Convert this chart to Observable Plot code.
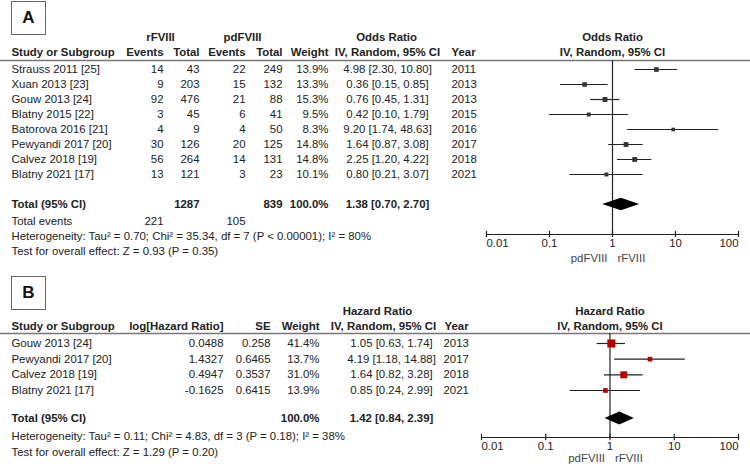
<!DOCTYPE html>
<html><head><meta charset="utf-8">
<script src="https://cdn.jsdelivr.net/npm/d3@7"></script>
<script src="https://cdn.jsdelivr.net/npm/@observablehq/plot@0.6"></script>
<style>
html,body{margin:0;padding:0;background:#fff;}
#wrap{position:relative;width:750px;height:475px;overflow:hidden;}
.panel{position:absolute;left:0;}
.box{position:absolute;left:11px;width:35px;height:34px;border:1px solid #666;display:flex;align-items:center;justify-content:center;font:bold 17px "Liberation Sans",Arial,sans-serif;color:#111;box-sizing:border-box;}
</style></head><body><div id="wrap"></div>
<script>
// ---------- Panel A data ----------
const studiesA = ["Strauss 2011 [25]","Xuan 2013 [23]","Gouw 2013 [24]","Blatny 2015 [22]","Batorova 2016 [21]","Pewyandi 2017 [20]","Calvez 2018 [19]","Blatny 2021 [17]"];
const rEvents  = [14, 9, 92, 3, 4, 30, 56, 13];
const rTotal   = [43, 203, 476, 45, 9, 126, 264, 121];
const pdEvents = [22, 15, 21, 6, 4, 20, 14, 3];
const pdTotal  = [249, 132, 88, 41, 50, 125, 131, 23];
const weightA  = [13.9, 13.3, 15.3, 9.5, 8.3, 14.8, 14.8, 10.1];
const orA      = [4.98, 0.36, 0.76, 0.42, 9.20, 1.64, 2.25, 0.80];
const loA      = [2.30, 0.15, 0.45, 0.10, 1.74, 0.87, 1.20, 0.21];
const hiA      = [10.80, 0.85, 1.31, 1.79, 48.63, 3.08, 4.22, 3.07];
const yearA    = ["2011", "2013", "2013", "2015", "2016", "2017", "2018", "2021"];
const totalA   = {rTotal: "1287", pdTotal: "839", weight: "100.0%", est: 1.38, lo: 0.70, hi: 2.70, rEvents: "221", pdEvents: "105"};
const hetA     = "Heterogeneity: Tau\u00b2 = 0.70; Chi\u00b2 = 35.34, df = 7 (P < 0.00001); I\u00b2 = 80%";
const testA    = "Test for overall effect: Z = 0.93 (P = 0.35)";

// ---------- Panel B data ----------
const studiesB = ["Gouw 2013 [24]","Pewyandi 2017 [20]","Calvez 2018 [19]","Blatny 2021 [17]"];
const logHR    = ["0.0488", "1.4327", "0.4947", "-0.1625"];
const seB      = ["0.258", "0.6465", "0.3537", "0.6415"];
const weightB  = [41.4, 13.7, 31.0, 13.9];
const hrB      = [1.05, 4.19, 1.64, 0.85];
const loB      = [0.63, 1.18, 0.82, 0.24];
const hiB      = [1.74, 14.88, 3.28, 2.99];
const yearB    = ["2013", "2017", "2018", "2021"];
const totalB   = {weight: "100.0%", est: 1.42, lo: 0.84, hi: 2.39};
const hetB     = "Heterogeneity: Tau\u00b2 = 0.11; Chi\u00b2 = 4.83, df = 3 (P = 0.18); I\u00b2 = 38%";
const testB    = "Test for overall effect: Z = 1.29 (P = 0.20)";

const axisTicks = [0.01, 0.1, 1, 10, 100];
const tickLabels = ["0.01", "0.1", "1", "10", "100"];

// ---------- style ----------
const FONT = "'Liberation Sans', Arial, sans-serif";
const FS = 11.4;
const ink = "#222";
const ci = (e, l, h) => `${e.toFixed(2)} [${l.toFixed(2)}, ${h.toFixed(2)}]`;
const pct = w => w.toFixed(1) + "%";

function txt(data, text, dx, anchor, extra = {}) {
  return Plot.text(data, {y: "row", text, frameAnchor: "left", dx, textAnchor: anchor, fill: ink, fontSize: FS, ...extra});
}
const one = (row, t) => [{row, t: String(t)}];

function axisMarks(axisRow, labelRow, sideRow, tickHalf) {
  const tk = axisTicks.map((v, i) => ({x: v, t: tickLabels[i], row: labelRow}));
  return [
    Plot.ruleY([axisRow], {x1: 0.01, x2: 100, stroke: ink, strokeWidth: 1.2}),
    Plot.ruleX(axisTicks, {x: d => d, y1: axisRow - tickHalf, y2: axisRow + tickHalf, stroke: ink, strokeWidth: 1.2}),
    Plot.text(tk.slice(0, 1), {x: "x", y: "row", text: "t", textAnchor: "start", fill: ink, fontSize: FS}),
    Plot.text(tk.slice(1, 4), {x: "x", y: "row", text: "t", textAnchor: "middle", fill: ink, fontSize: FS}),
    Plot.text(tk.slice(4), {x: "x", y: "row", text: "t", textAnchor: "end", fill: ink, fontSize: FS}),
    Plot.text([{x: 1, row: sideRow}], {x: "x", y: "row", text: () => "pdFVIII", textAnchor: "end", dx: -5, fill: "#444", fontSize: FS}),
    Plot.text([{x: 1, row: sideRow}], {x: "x", y: "row", text: () => "rFVIII", textAnchor: "start", dx: 5, fill: "#444", fontSize: FS})
  ];
}

// ---------- Panel A ----------
const rowsA = studiesA.map((s, i) => ({row: i, study: s, re: String(rEvents[i]), rt: String(rTotal[i]), pe: String(pdEvents[i]), pt: String(pdTotal[i]),
  w: weightA[i], wt: pct(weightA[i]), est: orA[i], lo: loA[i], hi: hiA[i], ci: ci(orA[i], loA[i], hiA[i]), year: yearA[i]}));
const TA = 9, h1A = -2.13, h2A = -1.13, lineA = -0.6, axisA = 11.0;
const diamondA = [
  {x: totalA.lo, y1: TA, y2: TA},
  {x: totalA.est, y1: TA - 0.42, y2: TA + 0.42},
  {x: totalA.hi, y1: TA, y2: TA}
];
const bold = {fontWeight: "bold"};

const plotA = Plot.plot({
  width: 750, height: 270, margin: 0,
  x: {type: "log", domain: [0.01, 100], range: [486, 738], axis: null},
  y: {domain: [0, 12], range: [69, 249], axis: null},
  r: {type: "sqrt", domain: [0, 50], range: [0, 5]},
  style: {fontFamily: FONT, fontSize: FS + "px", background: "transparent", overflow: "visible"},
  marks: [
    // headers
    txt(one(h1A, "rFVIII"), "t", 160, "middle", bold),
    txt(one(h1A, "pdFVIII"), "t", 242, "middle", bold),
    txt(one(h1A, "Odds Ratio"), "t", 386, "middle", bold),
    Plot.text([{x: 1, row: h1A}], {x: "x", y: "row", text: () => "Odds Ratio", fill: ink, fontSize: FS, fontWeight: "bold"}),
    txt(one(h2A, "Study or Subgroup"), "t", 11, "start", bold),
    txt(one(h2A, "Events"), "t", 163, "end", bold),
    txt(one(h2A, "Total"), "t", 199, "end", bold),
    txt(one(h2A, "Events"), "t", 245, "end", bold),
    txt(one(h2A, "Total"), "t", 282, "end", bold),
    txt(one(h2A, "Weight"), "t", 328, "end", bold),
    txt(one(h2A, "IV, Random, 95% CI"), "t", 387, "middle", bold),
    txt(one(h2A, "Year"), "t", 451, "start", bold),
    Plot.text([{x: 1, row: h2A}], {x: "x", y: "row", text: () => "IV, Random, 95% CI", fill: ink, fontSize: FS, fontWeight: "bold"}),
    Plot.ruleY([lineA], {stroke: "#777", strokeWidth: 1.6}),
    // study rows
    txt(rowsA, "study", 11, "start"),
    txt(rowsA, "re", 163, "end"),
    txt(rowsA, "rt", 199, "end"),
    txt(rowsA, "pe", 245, "end"),
    txt(rowsA, "pt", 282, "end"),
    txt(rowsA, "wt", 328, "end"),
    txt(rowsA, "ci", 387, "middle"),
    txt(rowsA, "year", 451, "start"),
    // totals
    txt(one(TA, "Total (95% CI)"), "t", 11, "start", bold),
    txt(one(TA, totalA.rTotal), "t", 199, "end", bold),
    txt(one(TA, totalA.pdTotal), "t", 282, "end", bold),
    txt(one(TA, totalA.weight), "t", 328, "end", bold),
    txt(one(TA, ci(totalA.est, totalA.lo, totalA.hi)), "t", 387, "middle", bold),
    txt(one(10.13, "Total events"), "t", 11, "start"),
    txt(one(10.13, totalA.rEvents), "t", 163, "end"),
    txt(one(10.13, totalA.pdEvents), "t", 245, "end"),
    txt(one(11.13, hetA), "t", 11, "start"),
    txt(one(12.13, testA), "t", 11, "start"),
    // forest
    Plot.ruleX([1], {y1: lineA, y2: axisA, stroke: ink, strokeWidth: 1.2}),
    Plot.ruleY(rowsA, {y: "row", x1: "lo", x2: "hi", stroke: ink, strokeWidth: 1.2}),
    Plot.dot(rowsA, {x: "est", y: "row", r: "w", symbol: "square", fill: "#333", stroke: null}),
    Plot.areaY(diamondA, {x: "x", y1: "y1", y2: "y2", fill: "#000"}),
    ...axisMarks(axisA, 11.6, 12.6, 0.2)
  ]
});

// ---------- Panel B ----------
const rowsB = studiesB.map((s, i) => ({row: i, study: s, lhr: logHR[i], se: seB[i], w: weightB[i], wt: pct(weightB[i]),
  est: hrB[i], lo: loB[i], hi: hiB[i], ci: ci(hrB[i], loB[i], hiB[i]), year: yearB[i]}));
const TB = 4.79, h1B = -2.04, h2B = -1.08, lineB = -0.64, axisB = 6.0;
const diamondB = [
  {x: totalB.lo, y1: TB, y2: TB},
  {x: totalB.est, y1: TB - 0.42, y2: TB + 0.42},
  {x: totalB.hi, y1: TB, y2: TB}
];

const plotB = Plot.plot({
  width: 750, height: 205, margin: 0,
  x: {type: "log", domain: [0.01, 100], range: [481, 738], axis: null},
  y: {domain: [0, 3], range: [73, 120], axis: null},
  r: {type: "sqrt", domain: [0, 50], range: [0, 5]},
  style: {fontFamily: FONT, fontSize: FS + "px", background: "transparent", overflow: "visible"},
  marks: [
    txt(one(h1B, "Hazard Ratio"), "t", 377, "middle", bold),
    Plot.text([{x: 1, row: h1B}], {x: "x", y: "row", text: () => "Hazard Ratio", fill: ink, fontSize: FS, fontWeight: "bold"}),
    txt(one(h2B, "Study or Subgroup"), "t", 11, "start", bold),
    txt(one(h2B, "log[Hazard Ratio]"), "t", 223, "end", bold),
    txt(one(h2B, "SE"), "t", 270, "end", bold),
    txt(one(h2B, "Weight"), "t", 319, "end", bold),
    txt(one(h2B, "IV, Random, 95% CI"), "t", 383, "middle", bold),
    txt(one(h2B, "Year"), "t", 444, "start", bold),
    Plot.text([{x: 1, row: h2B}], {x: "x", y: "row", text: () => "IV, Random, 95% CI", fill: ink, fontSize: FS, fontWeight: "bold"}),
    Plot.ruleY([lineB], {stroke: "#777", strokeWidth: 1.6}),
    txt(rowsB, "study", 11, "start"),
    txt(rowsB, "lhr", 223, "end"),
    txt(rowsB, "se", 270, "end"),
    txt(rowsB, "wt", 319, "end"),
    txt(rowsB, "ci", 391, "middle"),
    txt(rowsB, "year", 443, "start"),
    txt(one(TB, "Total (95% CI)"), "t", 11, "start", bold),
    txt(one(TB, totalB.weight), "t", 319, "end", bold),
    txt(one(TB, ci(totalB.est, totalB.lo, totalB.hi)), "t", 391, "middle", bold),
    txt(one(5.93, hetB), "t", 11, "start"),
    txt(one(6.96, testB), "t", 11, "start"),
    Plot.ruleX([1], {y1: lineB, y2: axisB, stroke: ink, strokeWidth: 1.2}),
    Plot.ruleY(rowsB, {y: "row", x1: "lo", x2: "hi", stroke: ink, strokeWidth: 1.2}),
    Plot.dot(rowsB, {x: "est", y: "row", r: "w", symbol: "square", fill: "#b40000", stroke: null}),
    Plot.areaY(diamondB, {x: "x", y1: "y1", y2: "y2", fill: "#000"}),
    ...axisMarks(axisB, 6.57, 7.34, 0.2)
  ]
});

const wrap = document.getElementById("wrap");
const pa = document.createElement("div"); pa.className = "panel"; pa.style.top = "0px"; pa.appendChild(plotA); wrap.appendChild(pa);
const pb = document.createElement("div"); pb.className = "panel"; pb.style.top = "270px"; pb.appendChild(plotB); wrap.appendChild(pb);
const boxA = document.createElement("div"); boxA.className = "box"; boxA.style.top = "1px"; boxA.textContent = "A"; wrap.appendChild(boxA);
const boxB = document.createElement("div"); boxB.className = "box"; boxB.style.top = "276px"; boxB.textContent = "B"; wrap.appendChild(boxB);
</script></body></html>
